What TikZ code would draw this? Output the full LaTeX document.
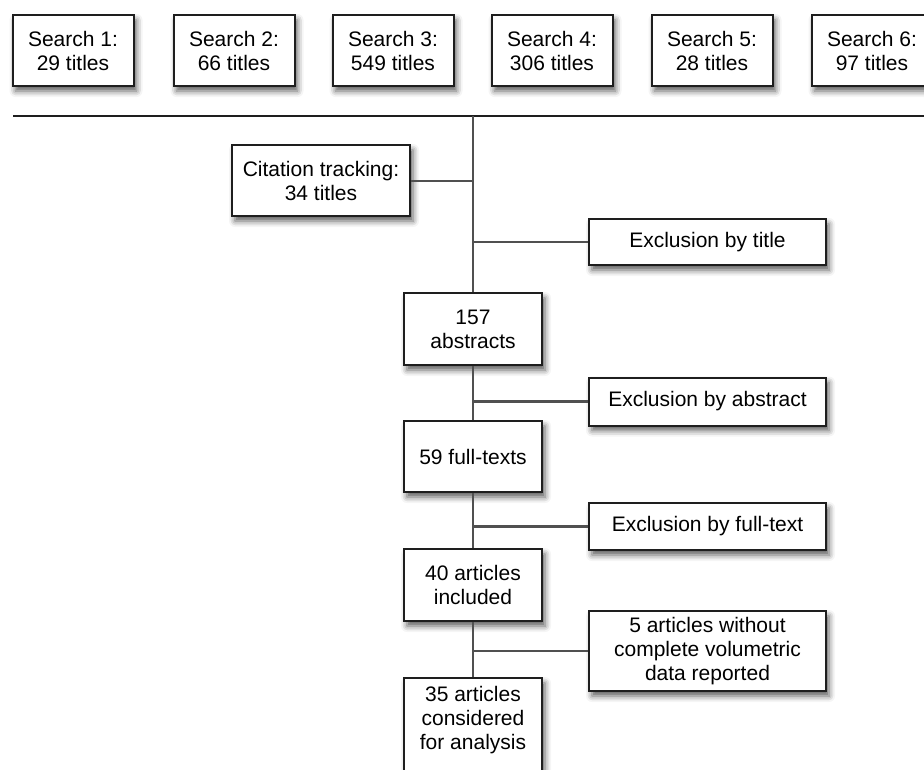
\documentclass[tikz,border=0pt]{standalone}
\usepackage{fontspec}
\setmainfont{Liberation Sans}
\usetikzlibrary{shadows.blur}
\definecolor{boxline}{HTML}{1E1E1E}
\definecolor{conn}{HTML}{505050}
\begin{document}
\begin{tikzpicture}[x=1pt,y=-1pt,
  box/.style={draw=boxline, line width=2pt, fill=white, align=center,
    inner sep=0pt, font=\fontsize{21}{24}\selectfont,
    blur shadow={shadow xshift=3pt, shadow yshift=-5pt, shadow blur radius=6pt, shadow opacity=65}},
  conn/.style={draw=conn, line width=2.2pt}]
\useasboundingbox (0,0) rectangle (924,769);
% search boxes
\node[box, minimum width=121pt, minimum height=71pt] (s1) at (73,50.5) {Search 1:\\29 titles};
\node[box, minimum width=121pt, minimum height=71pt] (s2) at (234,50.5) {Search 2:\\66 titles};
\node[box, minimum width=121pt, minimum height=71pt] (s3) at (393,50.5) {Search 3:\\549 titles};
\node[box, minimum width=121pt, minimum height=71pt] (s4) at (552,50.5) {Search 4:\\306 titles};
\node[box, minimum width=121pt, minimum height=71pt] (s5) at (712,50.5) {Search 5:\\28 titles};
\node[box, minimum width=121pt, minimum height=71pt] (s6) at (872,50.5) {Search 6:\\97 titles};
% horizontal line
\coordinate (hl) at (13,116);
\coordinate (hr) at (924,116);
\coordinate (ht) at (473,116);
\draw[draw=boxline, line width=2pt] (hl) -- (hr);
% main column
\node[box, minimum width=178pt, minimum height=71pt] (cit) at (321,180.5) {Citation tracking:\\34 titles};
\node[box, minimum width=237pt, minimum height=46pt] (ex1) at (707.5,242) {Exclusion by title};
\node[box, minimum width=138pt, minimum height=72pt] (abs) at (473,329) {157\\abstracts};
\node[box, minimum width=237pt, minimum height=48pt] (ex2) at (707.5,401.5) {Exclusion by abstract};
\node[box, minimum width=138pt, minimum height=71pt] (ft) at (473,456.5) {59 full-texts};
\node[box, minimum width=237pt, minimum height=47pt] (ex3) at (707.5,526.5) {Exclusion by full-text};
\node[box, minimum width=138pt, minimum height=72pt] (inc) at (473,585) {40 articles\\included};
\node[box, minimum width=237pt, minimum height=80pt] (ex4) at (707.5,651) {5 articles without\\complete volumetric\\data reported};
\node[box, minimum width=138pt, minimum height=100pt, anchor=north] (ana) at (473,677) {\\[-32pt]35 articles\\considered\\for analysis};
% junction coordinates on the trunk
\coordinate (j1) at (473,181);
\coordinate (j2) at (473,242);
\coordinate (j3) at (473,401.5);
\coordinate (j4) at (473,526.5);
\coordinate (j5) at (473,651);
% connectors
\draw[conn] (ht) -- (abs.north);
\draw[conn] (cit.east |- j1) -- (j1);
\draw[conn] (j2) -- (ex1.west);
\draw[conn] (abs.south) -- (ft.north);
\draw[conn] (j3) -- (ex2.west);
\draw[conn] (ft.south) -- (inc.north);
\draw[conn] (j4) -- (ex3.west);
\draw[conn] (inc.south) -- (ana.north);
\draw[conn] (j5) -- (ex4.west);
\end{tikzpicture}
\end{document}
